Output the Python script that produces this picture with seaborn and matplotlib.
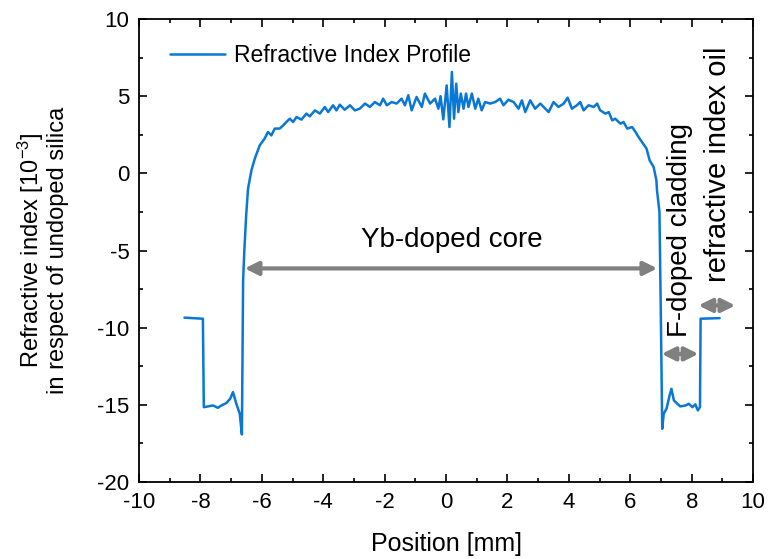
import numpy as np
import pandas as pd
import matplotlib
matplotlib.use("Agg")
import matplotlib.pyplot as plt
import seaborn as sns

# ============================================================================
# DATA
# ============================================================================

left_x = [-8.52, -7.92, -7.89, -7.76, -7.59, -7.43, -7.32, -7.16, -7.03, -6.94,
          -6.83, -6.72, -6.65]
left_y = [-9.35, -9.42, -15.15, -15.10, -15.04, -15.19, -15.04, -14.89, -14.60, -14.17,
          -14.93, -15.57, -16.92]

core_x = [-6.61, -6.57, -6.51, -6.45, -6.34, -6.23, -6.07, -5.91, -5.80, -5.69,
          -5.58, -5.42, -5.31, -5.20, -5.09, -4.98, -4.87, -4.71, -4.55, -4.44,
          -4.27, -4.11, -3.95, -3.84, -3.68, -3.57, -3.46, -3.30, -3.13, -2.97,
          -2.81, -2.64, -2.48, -2.32, -2.15, -2.05, -1.93, -1.77, -1.61, -1.45,
          -1.34, -1.23, -1.12, -0.96, -0.79, -0.69, -0.52, -0.36, -0.25, -0.18,
          -0.09, 0.02, 0.11, 0.19, 0.26, 0.33, 0.40, 0.48, 0.57, 0.65,
          0.73, 0.84, 0.95, 1.05, 1.16, 1.27, 1.44, 1.60, 1.76, 1.87,
          2.03, 2.20, 2.36, 2.47, 2.58, 2.74, 2.90, 3.07, 3.23, 3.34,
          3.50, 3.66, 3.83, 3.96, 4.10, 4.26, 4.37, 4.48, 4.64, 4.81,
          4.92, 5.02, 5.19, 5.30, 5.41, 5.51, 5.68, 5.78, 5.90, 6.06,
          6.17, 6.27, 6.38, 6.53, 6.63, 6.76, 6.85, 6.87, 6.95, 7.00]
core_y = [-6.93, -5.00, -2.70, -1.00, 0.19, 0.95, 1.81, 2.25, 2.68, 2.46,
          2.90, 2.90, 3.10, 3.33, 3.54, 3.33, 3.65, 3.48, 3.87, 3.69,
          4.08, 3.87, 4.30, 3.97, 4.41, 4.08, 4.45, 4.12, 4.41, 4.08,
          4.19, 4.52, 4.30, 4.62, 4.41, 4.84, 4.41, 4.62, 4.52, 4.84,
          4.41, 5.06, 4.08, 4.95, 4.30, 5.17, 4.52, 4.84, 4.19, 5.00,
          3.50, 5.70, 3.00, 6.57, 3.54, 5.81, 3.97, 5.17, 4.19, 5.17,
          4.30, 5.17, 4.19, 4.84, 4.08, 4.62, 4.52, 4.62, 4.84, 4.41,
          4.77, 4.62, 4.19, 4.73, 3.97, 4.73, 4.19, 4.52, 4.19, 3.97,
          4.62, 4.30, 4.52, 4.90, 4.19, 4.41, 4.62, 4.08, 4.41, 4.30,
          4.52, 4.08, 3.87, 3.97, 3.43, 3.54, 3.22, 3.33, 2.90, 3.00,
          2.68, 2.35, 2.03, 1.60, 0.84, 0.41, -0.45, -1.10, -2.50, -10.00]

right_x = [7.04, 7.09, 7.18, 7.28, 7.34, 7.42, 7.53, 7.63, 7.80, 7.91,
           8.02, 8.12, 8.20, 8.27, 8.29, 8.91]
right_y = [-16.55, -15.57, -15.25, -14.39, -13.96, -14.71, -14.93, -15.10, -15.04, -14.93,
           -15.15, -14.97, -15.36, -15.15, -9.42, -9.38]

x_ticks = [-10, -8, -6, -4, -2, 0, 2, 4, 6, 8, 10]
y_ticks = [-20, -15, -10, -5, 0, 5, 10]

# ============================================================================
# STYLE
# ============================================================================

sns.set_style("ticks")
plt.rcParams["font.family"] = ["Liberation Sans", "DejaVu Sans"]
plt.rcParams["mathtext.fontset"] = "custom"
plt.rcParams["mathtext.rm"] = "Liberation Sans"
plt.rcParams["mathtext.it"] = "Liberation Sans:italic"
plt.rcParams["text.color"] = "black"
plt.rcParams["axes.labelcolor"] = "black"

line_color = "#0A77D5"
arrow_color = "#808080"

df = pd.DataFrame({
    "Position": left_x + core_x + right_x,
    "Index": left_y + core_y + right_y,
})

# ============================================================================
# PLOT
# ============================================================================

fig = plt.figure(figsize=(7.78, 5.59), dpi=100)
ax = fig.add_axes([0.1787, 0.1377, 0.7893, 0.8283])

sns.lineplot(
    data=df,
    x="Position",
    y="Index",
    sort=False,
    estimator=None,
    color=line_color,
    linewidth=1.8,
    label="Refractive Index Profile",
    ax=ax
)

ax.set_xlim(-10, 10)
ax.set_ylim(-20, 10)
ax.set_xticks(x_ticks)
ax.set_yticks(y_ticks)
ax.set_xticks(np.arange(-9, 10, 2), minor=True)
ax.set_yticks(np.arange(-17.5, 10, 5), minor=True)

ax.tick_params(which="both", direction="in", top=True, right=True,
               labelsize=16, width=1.2, colors="black", pad=7)
ax.tick_params(which="major", length=6)
ax.tick_params(which="minor", length=3)
ax.set_xticklabels([str(t) for t in x_ticks])
ax.set_yticklabels([str(t) for t in y_ticks])

for s in ax.spines.values():
    s.set_linewidth(1.3)
    s.set_color("black")

ax.set_xlabel("Position [mm]", fontsize=18, labelpad=14)
ax.set_ylabel("Refractive index [10$^{-3}$]\nin respect of undoped silica",
              fontsize=17, labelpad=20, linespacing=1.1)

# annotations
def double_arrow(x0, x1, y):
    ax.annotate(
        "",
        xy=(x0, y),
        xytext=(x1, y),
        arrowprops=dict(arrowstyle="<|-|>", color=arrow_color, lw=3,
                        mutation_scale=20, shrinkA=0, shrinkB=0)
    )

double_arrow(-6.56, 6.88, -6.16)
double_arrow(7.02, 8.22, -11.7)
double_arrow(8.22, 9.42, -8.56)

ax.text(0.2, -4.3, "Yb-doped core", fontsize=20, ha="center", va="center")
ax.text(7.63, -3.7, "F-doped cladding", fontsize=20, ha="center", va="center",
        rotation=90)
ax.text(8.85, 0.6, "refractive index oil", fontsize=21, ha="center", va="center",
        rotation=90)

leg = ax.legend(loc="upper left", frameon=False, fontsize=16.5, handlelength=2.4,
                handletextpad=0.4, bbox_to_anchor=(0.035, 0.965), borderaxespad=0)
for t in leg.get_texts():
    t.set_color("black")

fig.savefig("out.png", dpi=100)
